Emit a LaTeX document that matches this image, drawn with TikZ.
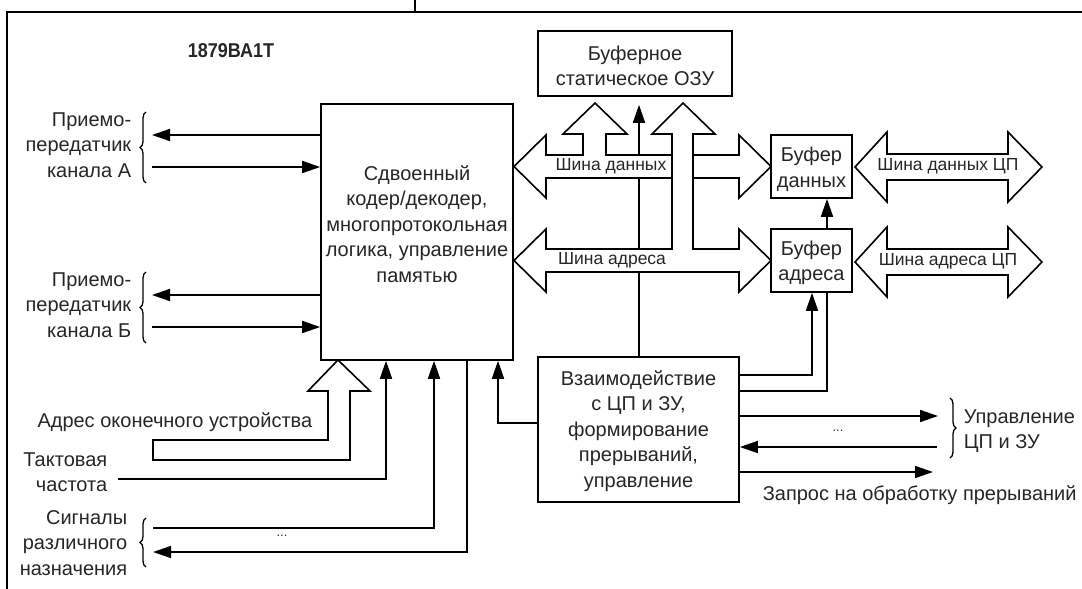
\documentclass[tikz,border=0pt]{standalone}
\usepackage{graphicx}
\usepackage{fontspec}
\setmainfont{Liberation Sans}
\usetikzlibrary{arrows.meta,decorations.pathreplacing,calc}
\begin{document}
\begin{tikzpicture}[x=1pt,y=-1pt,line width=1.6pt,
  box/.style={draw,line width=1.6pt,inner sep=0pt,fill=white},
  txt/.style={font=\fontsize{20}{25.5}\selectfont,align=center,inner sep=0pt,text=black!85},
  bustxt/.style={font=\fontsize{17.5}{20}\selectfont,inner sep=0pt,text=black!85},
  arr/.style={-{Triangle[length=18pt,width=12pt]}},
  hollow/.style={draw,fill=white,line width=1.6pt,line join=miter},
  brc/.style={decorate,decoration={brace,amplitude=6pt},line width=1.3pt},
  frame/.style={line width=1.2pt}]
\useasboundingbox (0,0) rectangle (1082,589);
% outer frame
\draw[frame] (7,589) -- (7,12) -- (1082,12);
\draw[frame] (415,0) -- (415,12);
% title
\node[txt,font=\fontsize{20}{24}\selectfont\bfseries] (title) at (231,51) {\scalebox{0.9}[1]{1879ВА1Т}};
% boxes
\node[box,minimum width=192pt,minimum height=256pt] (main) at (417,232) {};
\node[txt] (maintxt) at (417,224) {Сдвоенный\\кодер/декодер,\\многопротокольная\\логика, управление\\памятью};
\node[box,minimum width=194pt,minimum height=65pt] (ram) at (635,63.5) {};
\node[txt] (ramtxt) at (635,66) {Буферное\\статическое ОЗУ};
\node[box,minimum width=81pt,minimum height=63pt] (dbuf) at (811.5,166.5) {};
\node[txt] (dbuftxt) at (811.5,169) {Буфер\\данных};
\node[box,minimum width=81pt,minimum height=63pt] (abuf) at (811.5,260.5) {};
\node[txt] (abuftxt) at (811.5,263) {Буфер\\адреса};
\node[box,minimum width=201pt,minimum height=145pt] (ia) at (638.5,429.5) {};
\node[txt] (iatxt) at (638.5,431) {Взаимодействие\\с ЦП и ЗУ,\\формирование\\прерываний,\\управление};
% thin line interaction -> RAM (under the buses)
\coordinate (tx) at (639,300);
\draw[arr,shorten >=8pt] (ia.north -| tx) -- (ram.south -| tx);
% data bus with branch to RAM
\draw[hollow] (514,166.5) -- (546,135) -- (546,155) -- (583,155) -- (583,134) -- (563,134) -- (595,103) -- (627,134) -- (606,134) -- (606,155) -- (739,155) -- (739,135) -- (771,166.5) -- (739,198) -- (739,178) -- (546,178) -- (546,198) -- cycle;
% address bus with branch to RAM
\draw[hollow] (514,260.5) -- (546,229) -- (546,249) -- (672,249) -- (672,134) -- (652,134) -- (683,103) -- (715,134) -- (693,134) -- (693,249) -- (739,249) -- (739,229) -- (771,260.5) -- (739,292) -- (739,272) -- (546,272) -- (546,292) -- cycle;
\node[bustxt] (dbl) at (611,166) {Шина данных};
\node[bustxt] (abl) at (612,260) {Шина адреса};
% CPU buses
\draw[hollow] (855,167) -- (887,132) -- (887,154) -- (1008,154) -- (1008,132) -- (1042,167) -- (1008,202) -- (1008,180) -- (887,180) -- (887,202) -- cycle;
\draw[hollow] (855,262) -- (887,227) -- (887,249) -- (1008,249) -- (1008,227) -- (1042,262) -- (1008,297) -- (1008,275) -- (887,275) -- (887,297) -- cycle;
\node[bustxt] (cdl) at (948,166) {Шина данных ЦП};
\node[bustxt] (cal) at (948,261) {Шина адреса ЦП};
% channel A
\coordinate (a1) at (152,135);
\coordinate (a2) at (152,167);
\draw[arr] (main.west |- a1) -- (a1);
\draw[arr] (a2) -- (main.west |- a2);
\draw[brc] (146,183) -- (146,112);
\node[txt,align=right,anchor=east] (chA) at (132,145) {Приемо-\\передатчик\\канала А};
% channel B
\coordinate (b1) at (152,295);
\coordinate (b2) at (152,327);
\draw[arr] (main.west |- b1) -- (b1);
\draw[arr] (b2) -- (main.west |- b2);
\draw[brc] (146,343) -- (146,272);
\node[txt,align=right,anchor=east] (chB) at (132,305) {Приемо-\\передатчик\\канала Б};
% terminal address hollow arrow
\draw[hollow] (338,360) -- (370,391) -- (350,391) -- (350,460) -- (153,460) -- (153,440) -- (328,440) -- (328,391) -- (308,391) -- cycle;
\node[txt,anchor=east] (addr) at (313,422) {Адрес оконечного устройства};
% clock
\coordinate (clk) at (118,479);
\coordinate (clkx) at (386,479);
\draw[arr] (clk) -- (clkx) -- (main.south -| clkx);
\node[txt,align=right,anchor=east] (clktxt) at (108,472) {Тактовая\\частота};
% signals
\coordinate (s1) at (153,528);
\coordinate (s1x) at (434,528);
\draw[arr] (s1) -- (s1x) -- (main.south -| s1x);
\coordinate (s2) at (153,552);
\coordinate (s2x) at (467,552);
\draw[arr] (main.south -| s2x) -- (s2x) -- (s2);
\draw[brc] (146,567) -- (146,518);
\node[txt,align=right,anchor=east] (sig) at (128,543) {Сигналы\\различного\\назначения};
\node[txt,font=\fontsize{13}{15}\selectfont] (dots1) at (282,536) {...};
% interaction -> main
\coordinate (k1) at (498,423);
\draw[arr] (ia.west |- k1) -| (main.south -| k1);
% interaction -> buffers
\coordinate (q1) at (812,375);
\coordinate (q2) at (827,391);
\draw[arr] (ia.east |- q1) -| (abuf.south -| q1);
\draw (ia.east |- q2) -| (abuf.south -| q2);
\draw[arr] (abuf.north -| q2) -- (dbuf.south -| q2);
% control CPU & memory
\coordinate (r1) at (938,416);
\coordinate (r2) at (937,447);
\coordinate (r3) at (933,472);
\draw[arr] (ia.east |- r1) -- (r1);
\draw[arr] (r2) -- (ia.east |- r2);
\draw[arr] (ia.east |- r3) -- (r3);
\node[txt,font=\fontsize{13}{15}\selectfont] (dots2) at (838,431) {...};
\draw[brc] (950,398) -- (950,458);
\node[txt,align=left,anchor=west] (ctrl) at (963,431) {Управление\\ЦП и ЗУ};
\node[txt,anchor=west] (req) at (762,495) {Запрос на обработку прерываний};
\end{tikzpicture}
\end{document}
